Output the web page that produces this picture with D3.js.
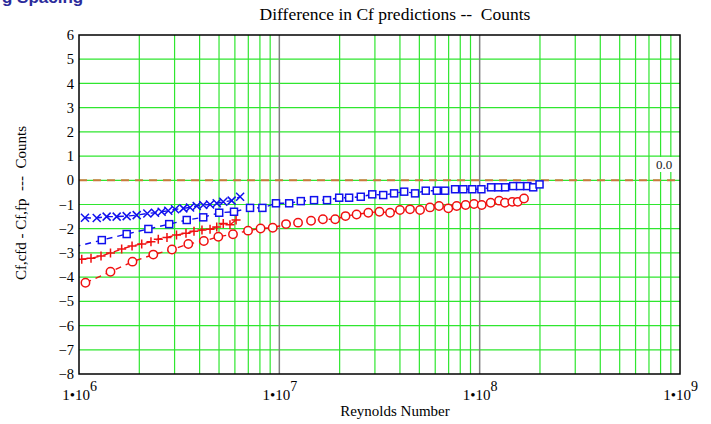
<!DOCTYPE html>
<html>
<head>
<meta charset="utf-8">
<script src="https://cdn.jsdelivr.net/npm/d3@7"></script>
<style>
  body { margin: 0; background: #fff; }
  svg { display: block; }
</style>
</head>
<body>
<div id="chart"></div>
<script>
// Difference in Cf predictions -- Counts

// blue x markers
const crossRe = [1.071e6, 1.226e6, 1.374e6, 1.542e6, 1.730e6, 1.941e6, 2.193e6, 2.395e6, 2.585e6, 2.790e6,
  3.016e6, 3.318e6, 3.584e6, 3.869e6, 4.17e6, 4.51e6, 4.87e6, 5.25e6, 5.78e6, 6.37e6];
const crossVal = [-1.55, -1.56, -1.50, -1.50, -1.48, -1.44, -1.37, -1.34, -1.30, -1.26,
  -1.20, -1.16, -1.12, -1.06, -1.02, -1.00, -0.95, -0.89, -0.84, -0.68];

// blue squares
const squareRe = [0.95e6, 1.30e6, 1.73e6, 2.22e6, 2.82e6, 3.45e6, 4.17e6, 5.01e6, 5.94e6, 7.14e6, 8.23e6,
  9.62e6, 1.12e7, 1.28e7, 1.49e7, 1.73e7, 1.99e7, 2.23e7, 2.55e7, 2.91e7, 3.30e7,
  3.74e7, 4.20e7, 4.76e7, 5.38e7, 6.11e7, 6.72e7, 7.54e7, 8.29e7, 9.19e7, 1.02e8,
  1.14e8, 1.24e8, 1.34e8, 1.47e8, 1.59e8, 1.73e8, 1.85e8, 1.99e8];
const squareVal = [-2.75, -2.47, -2.22, -2.01, -1.81, -1.64, -1.53, -1.34, -1.30, -1.14, -1.14,
  -0.95, -0.95, -0.86, -0.82, -0.82, -0.72, -0.72, -0.68, -0.58, -0.61,
  -0.54, -0.47, -0.54, -0.43, -0.43, -0.43, -0.37, -0.37, -0.37, -0.37,
  -0.29, -0.29, -0.29, -0.24, -0.24, -0.24, -0.29, -0.17];

// red + markers
const plusRe = [1.032e6, 1.148e6, 1.288e6, 1.436e6, 1.633e6, 1.84e6, 2.056e6, 2.287e6, 2.488e6, 2.749e6,
  3.067e6, 3.42e6, 3.75e6, 4.11e6, 4.51e6, 4.87e6, 5.25e6, 5.67e6, 6.08e6];
const plusVal = [-3.26, -3.22, -3.13, -3.00, -2.84, -2.71, -2.63, -2.54, -2.43, -2.36,
  -2.26, -2.19, -2.10, -2.05, -2.02, -1.93, -1.78, -1.84, -1.64];

// red circles
const circleRe = [1.077e6, 1.436e6, 1.849e6, 2.349e6, 2.912e6, 3.513e6, 4.20e6, 4.96e6, 5.87e6, 6.98e6,
  8.06e6, 9.27e6, 1.08e7, 1.24e7, 1.44e7, 1.65e7, 1.90e7, 2.14e7, 2.43e7, 2.78e7,
  3.16e7, 3.57e7, 4.00e7, 4.49e7, 5.04e7, 5.65e7, 6.27e7, 6.97e7, 7.68e7, 8.51e7,
  9.37e7, 1.024e8, 1.135e8, 1.25e8, 1.337e8, 1.455e8, 1.549e8, 1.665e8];
const circleVal = [-4.23, -3.78, -3.36, -3.07, -2.86, -2.63, -2.51, -2.33, -2.23, -2.08,
  -1.99, -1.96, -1.81, -1.75, -1.67, -1.61, -1.61, -1.48, -1.41, -1.34,
  -1.30, -1.34, -1.23, -1.20, -1.23, -1.12, -1.06, -1.16, -1.06, -1.02,
  -0.98, -1.02, -0.93, -0.84, -0.93, -0.89, -0.89, -0.75];

const xTickExps = [6, 7, 8, 9];
const yTicks = [-8, -7, -6, -5, -4, -3, -2, -1, 0, 1, 2, 3, 4, 5, 6];
const refValue = 0;

const width = 711,
    height = 424,
    margin = ({ top: 35, right: 31, bottom: 50, left: 79 });

const blue = "#1010ee", red = "#f01010", green = "#2fe62f";

const svg = d3.select("#chart")
  .append("svg")
  .attr("width", width)
  .attr("height", height)
  .style("font-family", "'Liberation Serif', 'Times New Roman', serif");

const x = d3.scaleLog()
  .domain([1e6, 1e9])
  .range([margin.left, width - margin.right]);

const y = d3.scaleLinear()
  .domain([-8, 6])
  .range([height - margin.bottom, margin.top]);

// heading of the page above, cut off at the top edge as in the source
svg.append("text")
  .attr("x", 2)
  .attr("y", 3)
  .attr("font-family", "'Liberation Sans', Arial, sans-serif")
  .attr("font-weight", "bold")
  .attr("font-size", 17)
  .attr("fill", "#2b2b9b")
  .text("g Spacing");

svg.append("defs").append("clipPath")
  .attr("id", "plot-clip")
  .append("rect")
  .attr("x", margin.left)
  .attr("y", margin.top)
  .attr("width", width - margin.left - margin.right)
  .attr("height", height - margin.top - margin.bottom);

// grid
const isDecade = d => xTickExps.some(e => Math.abs(d - Math.pow(10, e)) < 1);
const grid = svg.append("g");
grid.selectAll(".hgrid")
  .data(yTicks.slice(1, -1))
  .join("line")
  .attr("x1", margin.left).attr("x2", width - margin.right)
  .attr("y1", d => y(d)).attr("y2", d => y(d))
  .attr("stroke", green)
  .attr("stroke-width", 1.2);

grid.selectAll(".vgrid")
  .data(x.ticks().filter(d => d > 1e6 && d < 1e9))
  .join("line")
  .attr("x1", d => x(d)).attr("x2", d => x(d))
  .attr("y1", margin.top).attr("y2", height - margin.bottom)
  .attr("stroke", d => isDecade(d) ? "#808080" : green)
  .attr("stroke-width", d => isDecade(d) ? 1.5 : 1.2);

// zero reference line
svg.append("line")
  .attr("x1", margin.left).attr("x2", width - margin.right)
  .attr("y1", y(refValue)).attr("y2", y(refValue))
  .attr("stroke", "#c87a3c")
  .attr("stroke-width", 2)
  .attr("stroke-dasharray", "8,6");

svg.append("rect")
  .attr("x", 654).attr("y", 157)
  .attr("width", 20).attr("height", 15)
  .attr("fill", "#fff");
svg.append("text")
  .attr("x", 664).attr("y", 169)
  .attr("text-anchor", "middle")
  .attr("font-size", 13)
  .attr("fill", "#222")
  .text(refValue.toFixed(1));

// series
const plot = svg.append("g").attr("clip-path", "url(#plot-clip)");

function series(re, vals, color, shape) {
  const pts = re.map((r, i) => [r, vals[i]]);
  plot.append("path")
    .datum(pts)
    .attr("fill", "none")
    .attr("stroke", color)
    .attr("stroke-width", 1.4)
    .attr("stroke-dasharray", "6,5")
    .attr("d", d3.line().x(d => x(d[0])).y(d => y(d[1])));

  const g = plot.append("g")
    .attr("fill", "none")
    .attr("stroke", color)
    .attr("stroke-width", 1.5);
  const m = g.selectAll("g")
    .data(pts)
    .join("g")
    .attr("transform", d => `translate(${x(d[0])},${y(d[1])})`);
  if (shape === "cross") {
    m.append("path").attr("d", "M-4,-4L4,4M-4,4L4,-4");
  } else if (shape === "plus") {
    m.append("path").attr("d", "M-4.5,0L4.5,0M0,-4.5L0,4.5");
  } else if (shape === "square") {
    m.append("rect").attr("x", -3.5).attr("y", -3.5).attr("width", 7).attr("height", 7)
      .attr("fill", "#fff");
  } else {
    m.append("circle").attr("r", 4.2).attr("fill", "#fff");
  }
}

series(circleRe, circleVal, red, "circle");
series(plusRe, plusVal, red, "plus");
series(squareRe, squareVal, blue, "square");
series(crossRe, crossVal, blue, "cross");

// frame
svg.append("rect")
  .attr("x", margin.left)
  .attr("y", margin.top)
  .attr("width", width - margin.left - margin.right)
  .attr("height", height - margin.top - margin.bottom)
  .attr("fill", "none")
  .attr("stroke", "#000")
  .attr("stroke-width", 1.5);

// axes
const yAxis = svg.append("g")
  .attr("transform", `translate(${margin.left},0)`)
  .call(d3.axisLeft(y).tickValues(yTicks).tickSize(0).tickPadding(5));
yAxis.select(".domain").remove();
yAxis.selectAll("text")
  .attr("font-family", "'Liberation Serif', 'Times New Roman', serif")
  .attr("font-size", 14.5)
  .attr("fill", "#000");

const xAxis = svg.append("g")
  .attr("transform", `translate(0,${height - margin.bottom})`)
  .call(d3.axisBottom(x).tickValues(xTickExps.map(e => Math.pow(10, e))).tickSize(0).tickFormat(""));
xAxis.select(".domain").remove();
xAxis.selectAll(".tick text")
  .attr("y", 26)
  .attr("dy", 0)
  .attr("font-family", "'Liberation Serif', 'Times New Roman', serif")
  .attr("font-size", 15)
  .attr("fill", "#000")
  .each(function(d) {
    const t = d3.select(this);
    t.append("tspan").text("1\u202210");
    t.append("tspan").attr("dy", -9).attr("font-size", 14).text(Math.round(Math.log10(d)));
  });

// titles
svg.append("text")
  .attr("x", 395)
  .attr("y", 20)
  .attr("text-anchor", "middle")
  .attr("font-size", 17.5)
  .style("white-space", "pre")
  .text("Difference in Cf predictions --  Counts");

svg.append("text")
  .attr("x", 395)
  .attr("y", 416)
  .attr("text-anchor", "middle")
  .attr("font-size", 15)
  .text("Reynolds Number");

svg.append("text")
  .attr("transform", "translate(26,203) rotate(-90)")
  .attr("text-anchor", "middle")
  .attr("font-size", 15)
  .style("white-space", "pre")
  .text("Cf,cfd - Cf,fp  ---  Counts");
</script>
</body>
</html>
